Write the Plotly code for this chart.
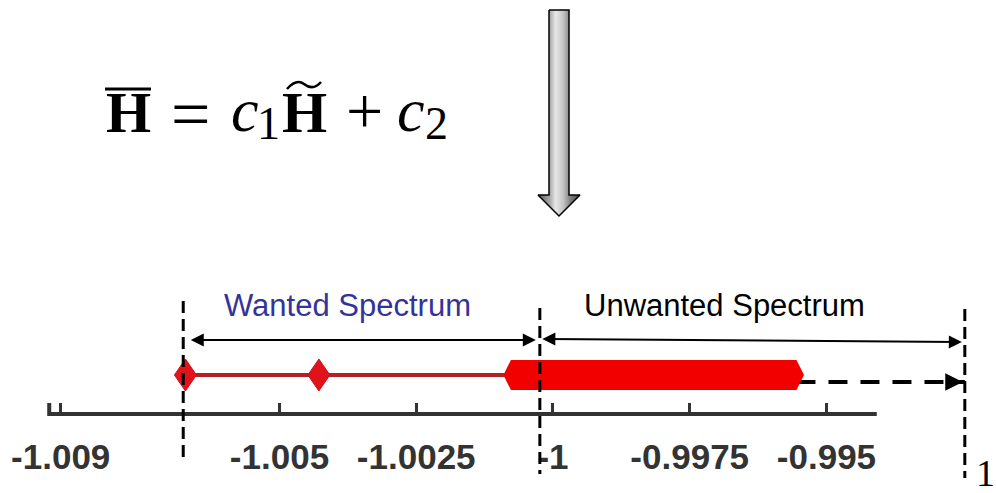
import plotly.graph_objects as go

# ---- data -------------------------------------------------------------
tick_values = [-1.009, -1.005, -1.0025, -1.0, -0.9975, -0.995]
tick_labels = ["-1.009", "-1.005", "-1.0025", "-1", "-0.9975", "-0.995"]

isolated_eigs = [-1.00672, -1.00428]        # separated eigenvalues
band_edges = [-1.000768, -0.995548]         # dense cluster of eigenvalues
lower_bound = -1.00676                      # lower end of wanted spectrum
split_point = -1.00024                      # wanted / unwanted boundary
upper_bound = -0.99247                      # mapped value of 1
axis_extent = [-1.00921, -0.99408]

# ---- layout constants (y axis runs in pixel-like units, top = 0) -----
W, H = 996, 493
X_RANGE = [-1.01011, -0.99190]
ROW_Y = 375
AXIS_Y = 414
ARROW_Y = 340
DASH_ARROW_Y = 382

RED_LINE = "#b52025"
RED_FILL = "#f20000"
DIAMOND = "#e0121a"

fig = go.Figure()

# dashed continuation of the spectrum up to 1
fig.add_trace(go.Scatter(
    x=[band_edges[1], upper_bound], y=[DASH_ARROW_Y, DASH_ARROW_Y],
    mode="lines", line=dict(color="black", width=4, dash="19px,13px"),
    hoverinfo="skip"))

# thin line joining the separated eigenvalues to the cluster
fig.add_trace(go.Scatter(
    x=[isolated_eigs[0], band_edges[0]], y=[ROW_Y, ROW_Y],
    mode="lines", line=dict(color=RED_LINE, width=4), hoverinfo="skip"))

# dense cluster drawn as a thick bar with pointed ends
fig.add_trace(go.Scatter(
    x=band_edges, y=[ROW_Y, ROW_Y], mode="lines+markers",
    line=dict(color=RED_FILL, width=30),
    marker=dict(symbol="diamond-tall", size=21.5, color=RED_FILL,
                line=dict(width=0)),
    hoverinfo="skip"))

# gradient down arrow (decorative, pixel axis x2)
arrow_x = [549, 569, 569, 580, 559, 538, 549, 549]
arrow_y = [10, 10, 195, 195, 216, 195, 195, 10]
fig.add_trace(go.Scatter(
    x=arrow_x, y=arrow_y, xaxis="x2", mode="lines", fill="toself",
    line=dict(color="black", width=1.5),
    fillgradient=dict(type="horizontal", colorscale=[
        [0.0, "#5a5a5a"], [0.28, "#a8a8a8"], [0.42, "#e8e8e8"],
        [0.6, "#c4c4c4"], [0.78, "#7c7c7c"], [1.0, "#4a4a4a"]]),
    hoverinfo="skip"))

shapes = []
# separated eigenvalues as rhombi anchored at their values (pixel sized)
for ev in isolated_eigs:
    shapes.append(dict(type="path", xref="x", yref="y",
                       xsizemode="pixel", xanchor=ev,
                       ysizemode="pixel", yanchor=ROW_Y,
                       path="M -11,0 L 0,16 L 11,0 L 0,-16 Z",
                       fillcolor=DIAMOND, line=dict(color="#d0101a", width=1),
                       layer="above"))
# number line with a small end cap on the left
shapes.append(dict(type="path", xref="x", yref="y",
                   path=f"M {axis_extent[0]},{AXIS_Y - 11} L {axis_extent[0]},{AXIS_Y} "
                        f"L {axis_extent[1]},{AXIS_Y}",
                   line=dict(color="#333333", width=4)))
# dashed boundaries
for xv, y0, y1 in [(lower_bound, 301, 461), (split_point, 308, 474),
                   (upper_bound, 309, 478)]:
    shapes.append(dict(type="line", xref="x", yref="y", x0=xv, x1=xv,
                       y0=y0, y1=y1,
                       line=dict(color="black", width=3, dash="12px,6px")))
# bar over the first H and tilde over the second H
shapes.append(dict(type="line", xref="x2", yref="y", x0=105, x1=151,
                   y0=89, y1=89, line=dict(color="black", width=3)))
shapes.append(dict(type="path", xref="x2", yref="y",
                   path="M 287,89 C 294,81 300,81 304,84 C 309,88 315,89 321,82",
                   line=dict(color="black", width=2.5)))

annotations = []
# double-headed range arrows
annotations.append(dict(
    x=split_point, y=ARROW_Y, ax=lower_bound, ay=ARROW_Y,
    xref="x", yref="y", axref="x", ayref="y", text="", showarrow=True,
    arrowside="end+start", arrowhead=2, startarrowhead=2,
    arrowsize=1.3, startarrowsize=1.3, arrowwidth=2, arrowcolor="black",
    standoff=4, startstandoff=6))
annotations.append(dict(
    x=upper_bound, y=342, ax=split_point, ay=339,
    xref="x", yref="y", axref="x", ayref="y", text="", showarrow=True,
    arrowside="end+start", arrowhead=2, startarrowhead=2,
    arrowsize=1.3, startarrowsize=1.3, arrowwidth=2, arrowcolor="black",
    standoff=3, startstandoff=1))
# head of the dashed arrow
annotations.append(dict(
    x=upper_bound, y=DASH_ARROW_Y, ax=-18, ay=0, xref="x", yref="y",
    text="", showarrow=True, arrowhead=2, arrowsize=1.1, arrowwidth=3.2,
    arrowcolor="black", standoff=2))

annotations.append(dict(x=347, y=305, xref="x2", yref="y",
                        text="Wanted Spectrum", showarrow=False,
                        font=dict(family="Liberation Sans", size=31,
                                  color="#333399")))
annotations.append(dict(x=724, y=305, xref="x2", yref="y",
                        text="Unwanted Spectrum", showarrow=False,
                        font=dict(family="Liberation Sans", size=31,
                                  color="black")))

# formula pieces: (x, y, text, size)
SERIF = "Liberation Serif"
formula = [
    (128, 112, "<b>H</b>", 58),
    (190, 114, "=", 70),
    (245, 110, "<i>c</i>", 62),
    (268, 123, "1", 46),
    (304, 112, "<b>H</b>", 58),
    (364, 110, "+", 66),
    (411, 110, "<i>c</i>", 62),
    (436, 123, "2", 46),
]
for xp, yp, txt, fs in formula:
    annotations.append(dict(x=xp, y=yp, xref="x2", yref="y", text=txt,
                            showarrow=False,
                            font=dict(family=SERIF, size=fs, color="black")))
annotations.append(dict(x=985, y=473, xref="x2", yref="y", text="1",
                        showarrow=False,
                        font=dict(family=SERIF, size=38, color="black")))

fig.update_layout(
    width=W, height=H,
    margin=dict(l=0, r=0, t=0, b=0, pad=0),
    paper_bgcolor="white", plot_bgcolor="white",
    showlegend=False,
    shapes=shapes, annotations=annotations,
    xaxis=dict(range=X_RANGE, domain=[0, 1], anchor="free",
               position=1 - AXIS_Y / H, side="bottom",
               tickvals=tick_values, ticktext=tick_labels,
               ticks="inside", ticklen=11, tickwidth=3, tickcolor="#333333",
               ticklabelstandoff=19,
               tickfont=dict(family="Liberation Sans", size=35,
                             color="#333333", weight="bold"),
               showgrid=False, zeroline=False, showline=False,
               fixedrange=True),
    xaxis2=dict(range=[0, W], domain=[0, 1], overlaying="x", visible=False,
                fixedrange=True),
    yaxis=dict(range=[H, 0], domain=[0, 1], visible=False, fixedrange=True),
)

fig.write_html("out.html")
